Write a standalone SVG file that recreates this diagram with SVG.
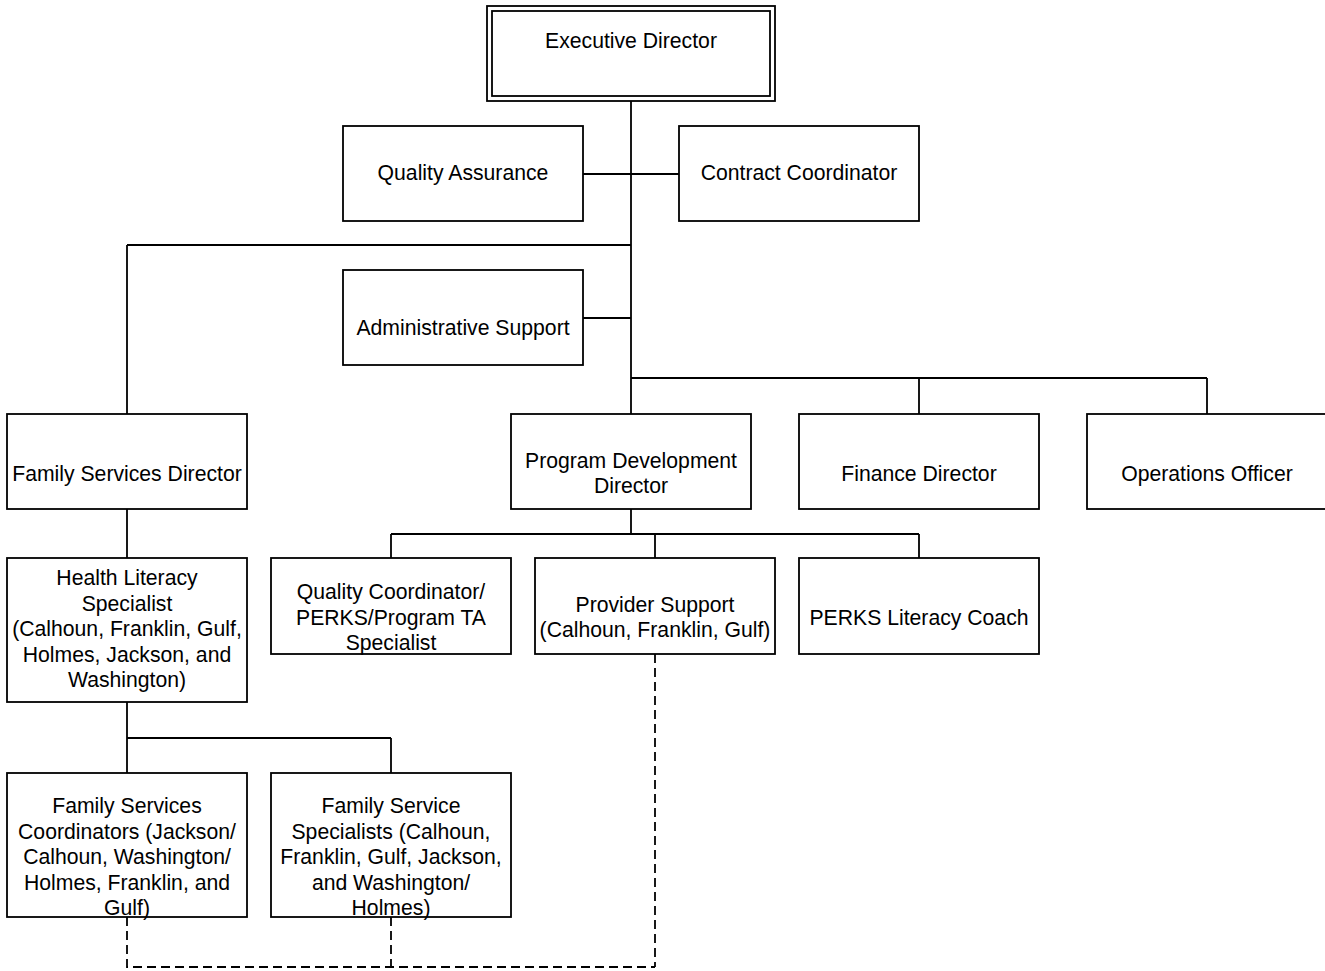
<svg xmlns="http://www.w3.org/2000/svg" width="1325" height="971" viewBox="0 0 1325 971">
<style>
.box{fill:#fff;stroke:#000;stroke-width:1.8}
.ln{fill:none;stroke:#000;stroke-width:1.8}
.dash{fill:none;stroke:#000;stroke-width:1.8;stroke-dasharray:9 5}
text{font-family:"Liberation Sans",Arial,sans-serif;font-size:21.2px;fill:#000;text-anchor:middle}
</style>
<rect width="1325" height="971" fill="#fff"/>
<g id="connectors">
<path class="ln" d="M631 101V414M583 174H679M127 245H631M127 245V414M583 318H631M631 378H1207M919 378V414M1207 378V414"/>
<path class="ln" d="M127 509V558M631 509V534M391 534H919M391 534V558M655 534V558M919 534V558"/>
<path class="ln" d="M127 702V738H391M127 738V773M391 738V773"/>
<path class="dash" d="M127 917V967H655M391 917V967M655 654V967"/>
</g>
<g id="n-exec">
<rect class="box" x="487" y="6" width="288" height="95"/>
<rect class="box" x="492" y="11" width="278" height="85"/>
<text x="631" y="48">Executive Director</text>
</g>
<g id="n-qa"><rect class="box" x="343" y="126" width="240" height="95"/><text x="463" y="180">Quality Assurance</text></g>
<g id="n-cc"><rect class="box" x="679" y="126" width="240" height="95"/><text x="799" y="180">Contract Coordinator</text></g>
<g id="n-admin"><rect class="box" x="343" y="270" width="240" height="95"/><text x="463" y="335">Administrative Support</text></g>
<g id="n-fsd"><rect class="box" x="7" y="414" width="240" height="95"/><text x="127" y="481">Family Services Director</text></g>
<g id="n-pdd"><rect class="box" x="511" y="414" width="240" height="95"/><text x="631" y="468">Program Development</text><text x="631" y="493">Director</text></g>
<g id="n-fin"><rect class="box" x="799" y="414" width="240" height="95"/><text x="919" y="481">Finance Director</text></g>
<g id="n-ops"><rect class="box" x="1087" y="414" width="240" height="95"/><text x="1207" y="481">Operations Officer</text></g>
<g id="n-hls"><rect class="box" x="7" y="558" width="240" height="144"/>
<text x="127" y="585">Health Literacy</text><text x="127" y="611">Specialist</text><text x="127" y="636">(Calhoun, Franklin, Gulf,</text><text x="127" y="662">Holmes, Jackson, and</text><text x="127" y="687">Washington)</text></g>
<g id="n-qc"><rect class="box" x="271" y="558" width="240" height="96"/>
<text x="391" y="599">Quality Coordinator/</text><text x="391" y="625">PERKS/Program TA</text><text x="391" y="650">Specialist</text></g>
<g id="n-ps"><rect class="box" x="535" y="558" width="240" height="96"/>
<text x="655" y="612">Provider Support</text><text x="655" y="637">(Calhoun, Franklin, Gulf)</text></g>
<g id="n-perks"><rect class="box" x="799" y="558" width="240" height="96"/><text x="919" y="625">PERKS Literacy Coach</text></g>
<g id="n-fsc"><rect class="box" x="7" y="773" width="240" height="144"/>
<text x="127" y="813">Family Services</text><text x="127" y="839">Coordinators (Jackson/</text><text x="127" y="864">Calhoun, Washington/</text><text x="127" y="890">Holmes, Franklin, and</text><text x="127" y="915">Gulf)</text></g>
<g id="n-fss"><rect class="box" x="271" y="773" width="240" height="144"/>
<text x="391" y="813">Family Service</text><text x="391" y="839">Specialists (Calhoun,</text><text x="391" y="864">Franklin, Gulf, Jackson,</text><text x="391" y="890">and Washington/</text><text x="391" y="915">Holmes)</text></g>
</svg>
